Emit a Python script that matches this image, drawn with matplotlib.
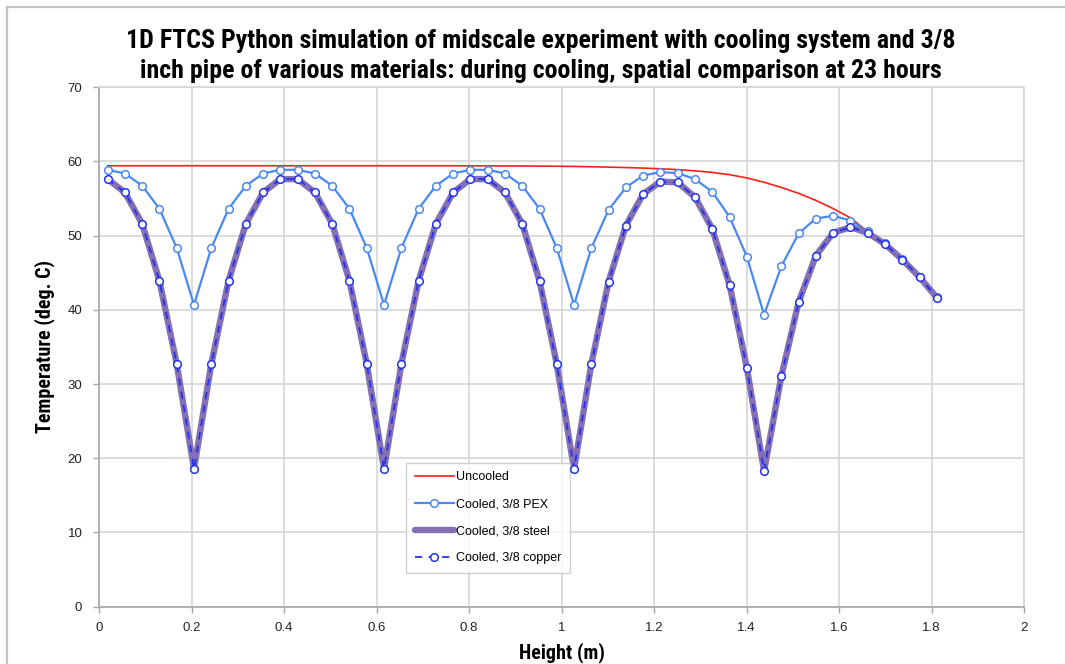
import matplotlib
matplotlib.use("Agg")
import matplotlib.pyplot as plt
from matplotlib import font_manager
from matplotlib.patches import Rectangle

# Cell-centre heights along the column (m)
height = [0.0187, 0.0560, 0.0934, 0.1307, 0.1681, 0.2054, 0.2428, 0.2801, 0.3175, 0.3548,
          0.3922, 0.4295, 0.4669, 0.5042, 0.5416, 0.5790, 0.6163, 0.6537, 0.6910, 0.7284,
          0.7657, 0.8031, 0.8404, 0.8778, 0.9151, 0.9525, 0.9898, 1.0272, 1.0645, 1.1019,
          1.1392, 1.1766, 1.2139, 1.2513, 1.2886, 1.3260, 1.3633, 1.4007, 1.4380, 1.4754,
          1.5127, 1.5501, 1.5874, 1.6248, 1.6621, 1.6995, 1.7368, 1.7742, 1.8115]

# Temperatures at 23 hours (deg. C)
uncooled = [59.42, 59.42, 59.42, 59.42, 59.42, 59.42, 59.42, 59.42, 59.42, 59.42,
            59.42, 59.42, 59.42, 59.42, 59.42, 59.42, 59.42, 59.42, 59.42, 59.42,
            59.42, 59.41, 59.41, 59.40, 59.39, 59.38, 59.36, 59.33, 59.29, 59.24,
            59.18, 59.11, 59.02, 58.90, 58.74, 58.52, 58.22, 57.78, 57.20, 56.50,
            55.70, 54.75, 53.65, 52.40, 50.55, 48.90, 46.80, 44.43, 41.68]

pex = [58.88, 58.38, 56.72, 53.62, 48.32, 40.67, 48.32, 53.62, 56.72, 58.38,
       58.88, 58.88, 58.38, 56.72, 53.62, 48.32, 40.67, 48.32, 53.62, 56.72,
       58.38, 58.88, 58.88, 58.38, 56.72, 53.62, 48.32, 40.67, 48.32, 53.49,
       56.50, 58.11, 58.57, 58.43, 57.63, 55.91, 52.54, 47.19, 39.33, 45.88,
       50.30, 52.31, 52.68, 52.04, 50.60, 48.95, 46.85, 44.45, 41.70]

steel = [57.63, 55.82, 51.60, 43.91, 32.68, 18.56, 32.68, 43.91, 51.60, 55.82,
         57.63, 57.63, 55.82, 51.60, 43.91, 32.68, 18.56, 32.68, 43.91, 51.60,
         55.82, 57.63, 57.63, 55.82, 51.60, 43.91, 32.68, 18.56, 32.68, 43.82,
         51.37, 55.60, 57.30, 57.17, 55.20, 50.92, 43.37, 32.22, 18.29, 31.06,
         41.04, 47.32, 50.38, 51.15, 50.38, 48.86, 46.78, 44.41, 41.66]

copper = [57.63, 55.82, 51.60, 43.91, 32.68, 18.56, 32.68, 43.91, 51.60, 55.82,
          57.63, 57.63, 55.82, 51.60, 43.91, 32.68, 18.56, 32.68, 43.91, 51.60,
          55.82, 57.63, 57.63, 55.82, 51.60, 43.91, 32.68, 18.56, 32.68, 43.82,
          51.37, 55.60, 57.30, 57.17, 55.20, 50.92, 43.37, 32.22, 18.29, 31.06,
          41.04, 47.32, 50.38, 51.15, 50.38, 48.86, 46.78, 44.41, 41.66]

labels = ["Uncooled", "Cooled, 3/8 PEX", "Cooled, 3/8 steel", "Cooled, 3/8 copper"]
x_ticks = [0, 0.2, 0.4, 0.6, 0.8, 1, 1.2, 1.4, 1.6, 1.8, 2]
x_tick_labels = ["0", "0.2", "0.4", "0.6", "0.8", "1", "1.2", "1.4", "1.6", "1.8", "2"]
y_ticks = [0, 10, 20, 30, 40, 50, 60, 70]

title_lines = ["1D FTCS Python simulation of midscale experiment with cooling system and 3/8",
               "inch pipe of various materials: during cooling, spatial comparison at 23 hours"]


def first_installed(candidates):
    names = {f.name for f in font_manager.fontManager.ttflist}
    for c in candidates:
        if c in names:
            return c
    return "DejaVu Sans"


narrow = first_installed(["Liberation Sans Narrow", "Roboto Condensed", "Open Sans Condensed",
                          "Roboto", "Lato"])
body = first_installed(["Liberation Sans", "Roboto", "Lato"])

W, H = 1065, 664
fig = plt.figure(figsize=(W / 100, H / 100), dpi=100)
fig.patch.set_facecolor("white")

# chart frame
fig.patches.append(Rectangle((7 / W, -0.1), 1.2, 1 - 7 / H + 0.1, transform=fig.transFigure,
                             fill=False, edgecolor="#c4c4c4", linewidth=1.6))

ax = fig.add_axes([99 / W, 1 - 606.6 / H, (1024 - 99) / W, (606.6 - 87.3) / H])
ax.set_xlim(0, 2)
ax.set_ylim(0, 70)

grid_c = "#d6d6d6"
ax.set_axisbelow(True)
ax.grid(True, color=grid_c, linewidth=1.2)
for side in ("top", "right"):
    ax.spines[side].set_color(grid_c)
    ax.spines[side].set_linewidth(1.2)
for side in ("left", "bottom"):
    ax.spines[side].set_color("#a6a6a6")
    ax.spines[side].set_linewidth(1.2)

ax.plot(height, uncooled, color="#f4221a", linewidth=1.2, label=labels[0], zorder=3)
ax.plot(height, pex, color="#4a88f2", linewidth=1.6, marker="o", markersize=5.5,
        markerfacecolor="white", markeredgecolor="#4a88f2", markeredgewidth=1.1,
        label=labels[1], zorder=4)
ax.plot(height, steel, color="#8470b2", linewidth=4.6, solid_capstyle="round",
        solid_joinstyle="round", label=labels[2], zorder=5)
ax.plot(height, copper, color="#2233ee", linewidth=1.3, linestyle=(0, (4, 3.5)),
        marker="o", markersize=5.5, markerfacecolor="white", markeredgecolor="#2233ee",
        markeredgewidth=1.1, label=labels[3], zorder=6)

ax.set_xticks(x_ticks)
ax.set_xticklabels(x_tick_labels)
ax.set_yticks(y_ticks)
ax.tick_params(axis="both", direction="out", length=4, width=1, color="#a6a6a6",
               labelsize=9.5, labelcolor="#222222")
ax.tick_params(axis="x", pad=7)
ax.tick_params(axis="y", pad=8)
for lbl in ax.get_xticklabels() + ax.get_yticklabels():
    lbl.set_family(body)

ax.set_xlabel("Height (m)", fontsize=14.5, fontweight="bold", labelpad=6, family=narrow)
ax.set_ylabel("Temperature (deg. C)", fontsize=14.5, fontweight="bold", labelpad=9,
              family=narrow)

# title, sized so the first line spans the chart width it occupies
renderer = fig.canvas.get_renderer()
title = fig.text(541 / W, 1 - 56 / H, "\n".join(title_lines), ha="center", va="center",
                 fontsize=16, fontweight="bold", linespacing=1.3, family=narrow)
probe = fig.text(0, 0, title_lines[0], fontsize=16, fontweight="bold", family=narrow)
w0 = probe.get_window_extent(renderer).width
probe.remove()
title.set_fontsize(16 * 828 / w0)

leg = ax.legend(loc="lower left", bbox_to_anchor=((406 - 99) / 925, (606.6 - 573) / 519.3),
                frameon=True, fancybox=False, fontsize=9, handlelength=3.1,
                labelspacing=1.2, borderpad=0.7, handletextpad=0.2, borderaxespad=0,
                prop={"family": body, "size": 9})
leg.get_frame().set_edgecolor("#c4c4c4")
leg.get_frame().set_linewidth(1.0)

fig.savefig("out.png", dpi=100, facecolor="white")
